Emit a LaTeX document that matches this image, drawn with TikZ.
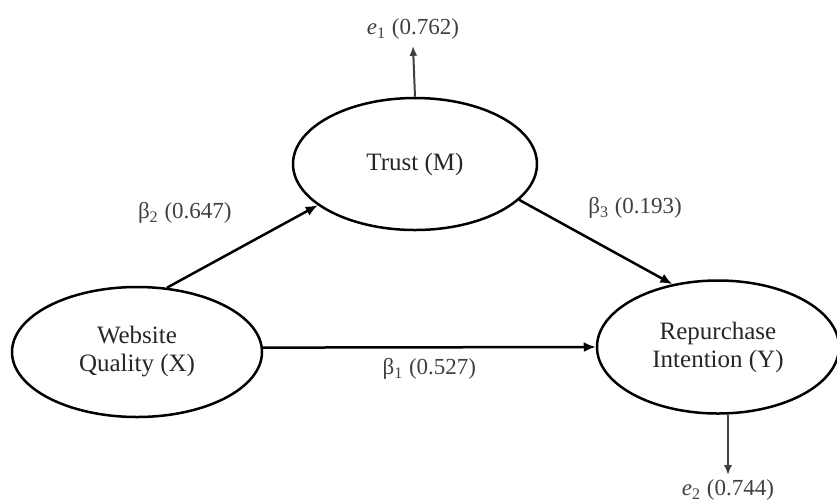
\documentclass[tikz,border=0pt]{standalone}
\usepackage{fontspec}
\setmainfont{Liberation Serif}
\usetikzlibrary{shapes.geometric,arrows.meta,positioning}

\tikzset{
  latent/.style={draw,ellipse,line width=1.25pt,inner sep=0pt,align=center,
    font=\fontsize{12.5}{14}\selectfont,text=black!85},
  arr/.style={-{Latex[length=6pt,width=5pt]},line width=1.25pt},
  errarr/.style={-{Latex[length=5pt,width=4pt]},line width=1pt,black!75},
  coef/.style={font=\fontsize{11.5}{13}\selectfont,text=black!75,inner sep=1pt}
}

\begin{document}
\begin{tikzpicture}[x=0.5pt,y=-0.5pt]
\useasboundingbox (0,0) rectangle (837,500);
\node[latent,minimum width=122pt,minimum height=66pt] (M) at (415,164) {Trust (M)};
\node[latent,minimum width=125pt,minimum height=65pt] (X) at (137,352) {Website\\Quality (X)};
\node[latent,minimum width=121pt,minimum height=66.5pt] (Y) at (718,347) {Repurchase\\Intention (Y)};
\node[coef] (e1) at (413,29) {\textit{e}\textsubscript{1} (0.762)};
\node[coef] (e2) at (728,490) {\textit{e}\textsubscript{2} (0.744)};
\path[arr] (X.65) edge node[coef,pos=0.45,above left=12pt and 0pt] {β\textsubscript{2} (0.647)} (M.203);
\path[arr] (M.-19) edge node[coef,pos=0.43,above right=7pt and 0pt] {β\textsubscript{3} (0.193)} (Y.126);
\path[arr] (X.2) edge node[coef,pos=0.5,below=4pt] {β\textsubscript{1} (0.527)} (Y.west);
\draw[errarr] (M.north) -- ([yshift=-2pt]e1.south);
\draw[errarr] (Y.south -| e2) -- ([yshift=1pt]e2.north);
\end{tikzpicture}
\end{document}
